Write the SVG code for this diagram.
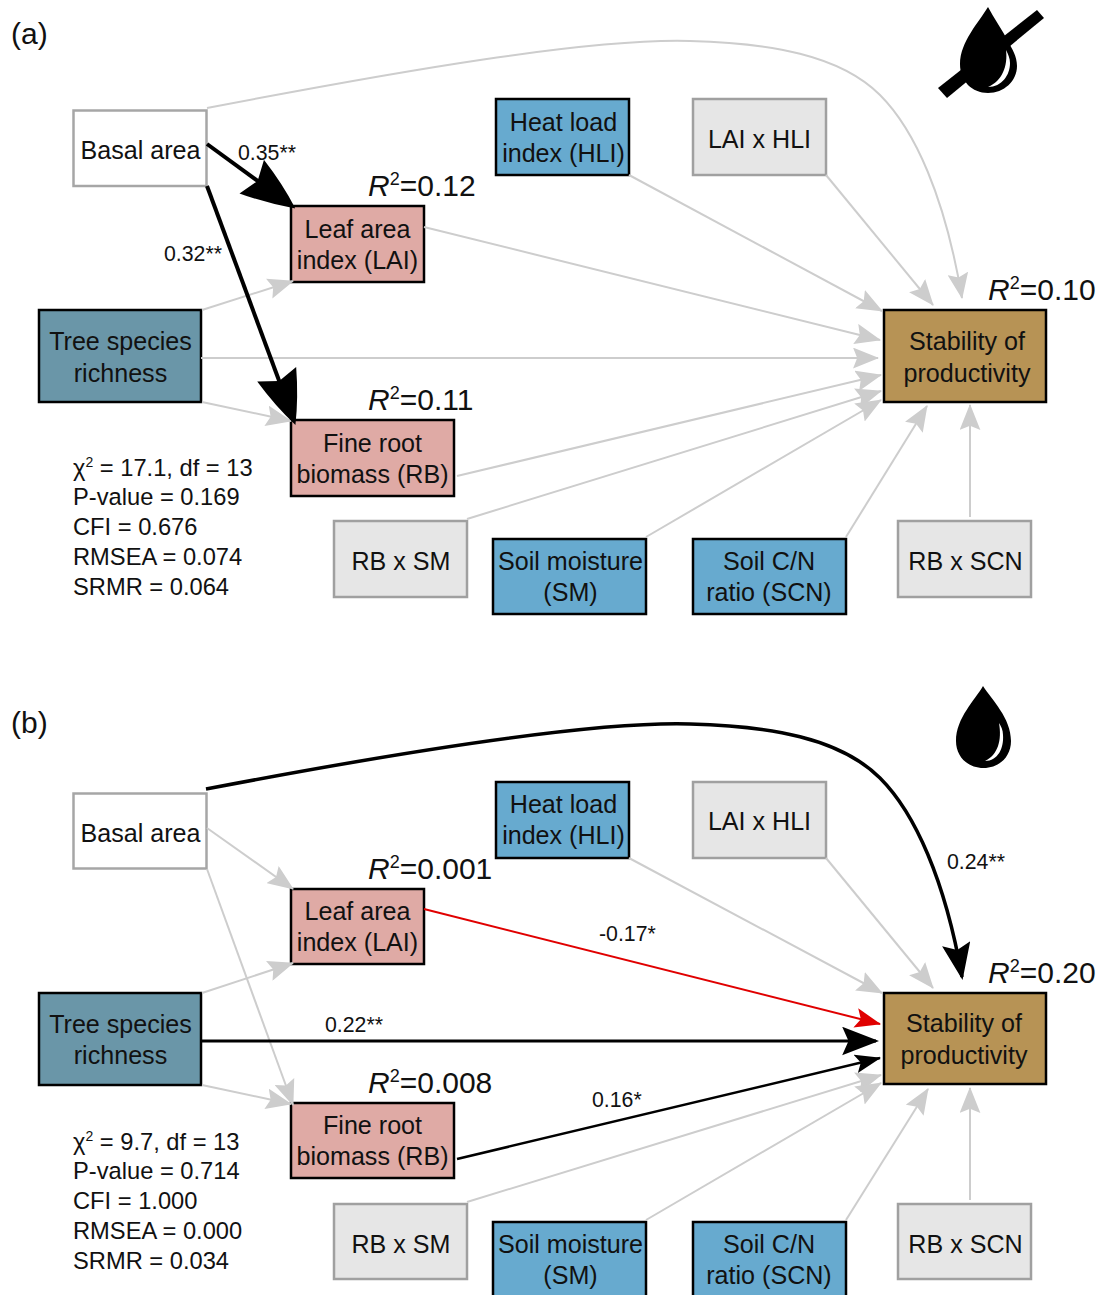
<svg xmlns="http://www.w3.org/2000/svg" width="1099" height="1295" viewBox="0 0 1099 1295">
<style>
text{font-family:"Liberation Sans",Arial,sans-serif;fill:#111}
.n{font-size:25.100px;text-anchor:middle}
.s{font-size:23.700px}
.e{font-size:21.300px}
.r{font-size:30px}
.p{font-size:30px}
.w{fill:#fff;stroke:#a6a6a6;stroke-width:2.5}
.g{fill:#e6e6e6;stroke:#a0a0a0;stroke-width:2.5}
.b{fill:#67aacf;stroke:#000;stroke-width:2.5}
.l{fill:#dfaaa5;stroke:#000;stroke-width:2.5}
.t{fill:#6a96a8;stroke:#000;stroke-width:2.5}
.o{fill:#b79355;stroke:#000;stroke-width:2.5}
.c{fill:none;stroke:#cdcdcd;stroke-width:2;marker-end:url(#mg)}
.k{fill:none;stroke:#000}
</style>
<defs>
<marker id="mg" markerUnits="userSpaceOnUse" markerWidth="26" markerHeight="21" viewBox="0 0 25 20" refX="24" refY="10" orient="auto"><path d="M0 0L25 10L0 20L4 10Z" fill="#cdcdcd"/></marker>
<marker id="mb" markerUnits="userSpaceOnUse" markerWidth="54" markerHeight="42" viewBox="0 0 52 40" refX="48" refY="20" orient="auto"><path d="M0 0Q28 8 52 20Q28 32 0 40L7 20Z" fill="#000"/></marker>
<marker id="mm" markerUnits="userSpaceOnUse" markerWidth="37" markerHeight="29" viewBox="0 0 35 27" refX="32" refY="13.5" orient="auto"><path d="M0 0L35 13.500L0 27L6 13.500Z" fill="#000"/></marker>
<marker id="ms" markerUnits="userSpaceOnUse" markerWidth="26" markerHeight="19" viewBox="0 0 25 18" refX="24" refY="9" orient="auto"><path d="M0 0L25 9L0 18L5 9Z" fill="#000"/></marker>
<marker id="mr" markerUnits="userSpaceOnUse" markerWidth="26" markerHeight="20" viewBox="0 0 25 19" refX="24" refY="9.5" orient="auto"><path d="M0 0L25 9.500L0 19L5 9.500Z" fill="#e00000"/></marker>
</defs>

<text class="p" x="11" y="44">(a)</text>
<text class="p" x="11" y="733">(b)</text>

<g id="a-icon">
<path d="M938,88L947,98L1044,18L1037,10Z" fill="#000"/>
<path d="M988,7C979,22 960,42 960,64C960,81 972,93 988,93C1004,93 1017,81 1017,66C1017,56 1012,49 1008,41C1002,30 994,18 988,7Z" fill="#000"/>
<path d="M1006,50C1008,66 1002,81 988,87C1002,87 1010,75 1010,63C1010,58 1008,54 1006,50Z" fill="#fff"/>
</g>
<g id="b-icon">
<path d="M983,686C975,700 956,718 956,741C956,757 968,768 983.500,768C999,768 1011,757 1011,741C1011,718 992,700 983,686Z" fill="#000"/>
<path d="M999,723C1002,740 998,755 985,761C998,761 1004,748 1003,735C1003,730 1001,726 999,723Z" fill="#fff"/>
</g>

<g id="a-basal"><rect class="w" x="73.500" y="110.500" width="133" height="75.500"/><text class="n" x="140.500" y="159">Basal area</text></g>
<g id="a-hli"><rect class="b" x="496" y="99" width="133" height="76"/><text class="n" x="563.500" y="130.500">Heat load</text><text class="n" x="563.500" y="161.500">index (HLI)</text></g>
<g id="a-laihli"><rect class="g" x="693" y="99" width="133" height="76"/><text class="n" x="759.500" y="147.500">LAI x HLI</text></g>
<g id="a-lai"><rect class="l" x="291" y="206" width="133" height="76"/><text class="n" x="357.500" y="237.500">Leaf area</text><text class="n" x="357.500" y="268.500">index (LAI)</text></g>
<g id="a-tree"><rect class="t" x="39" y="310" width="162" height="92"/><text class="n" x="120.500" y="350">Tree species</text><text class="n" x="120.500" y="381.500">richness</text></g>
<g id="a-rb"><rect class="l" x="291" y="420" width="163" height="76"/><text class="n" x="372.500" y="451.500">Fine root</text><text class="n" x="372.500" y="482.500">biomass (RB)</text></g>
<g id="a-stab"><rect class="o" x="884" y="310" width="162" height="92"/><text class="n" x="967" y="350">Stability of</text><text class="n" x="967" y="381.500">productivity</text></g>
<g id="a-rbsm"><rect class="g" x="334" y="521" width="133" height="76"/><text class="n" x="401" y="570">RB x SM</text></g>
<g id="a-sm"><rect class="b" x="493" y="539" width="153" height="75"/><text class="n" x="570.500" y="570">Soil moisture</text><text class="n" x="570.500" y="601">(SM)</text></g>
<g id="a-scn"><rect class="b" x="693" y="539" width="153" height="75"/><text class="n" x="769" y="570">Soil C/N</text><text class="n" x="769" y="601">ratio (SCN)</text></g>
<g id="a-rbscn"><rect class="g" x="898" y="521" width="133" height="76"/><text class="n" x="965.500" y="570">RB x SCN</text></g>

<g id="b-basal"><rect class="w" x="73.500" y="793.500" width="133" height="75"/><text class="n" x="140.500" y="842">Basal area</text></g>
<g id="b-hli"><rect class="b" x="496" y="782" width="133" height="76"/><text class="n" x="563.500" y="813">Heat load</text><text class="n" x="563.500" y="844">index (HLI)</text></g>
<g id="b-laihli"><rect class="g" x="693" y="782" width="133" height="76"/><text class="n" x="759.500" y="830">LAI x HLI</text></g>
<g id="b-lai"><rect class="l" x="291" y="889" width="133" height="75"/><text class="n" x="357.500" y="920">Leaf area</text><text class="n" x="357.500" y="951">index (LAI)</text></g>
<g id="b-tree"><rect class="t" x="39" y="993" width="162" height="92"/><text class="n" x="120.500" y="1033">Tree species</text><text class="n" x="120.500" y="1064">richness</text></g>
<g id="b-rb"><rect class="l" x="291" y="1103" width="163" height="75"/><text class="n" x="372.500" y="1134">Fine root</text><text class="n" x="372.500" y="1165">biomass (RB)</text></g>
<g id="b-stab"><rect class="o" x="884" y="993" width="162" height="91"/><text class="n" x="964" y="1032">Stability of</text><text class="n" x="964" y="1064">productivity</text></g>
<g id="b-rbsm"><rect class="g" x="334" y="1204" width="133" height="75"/><text class="n" x="401" y="1253">RB x SM</text></g>
<g id="b-sm"><rect class="b" x="493" y="1222" width="153" height="75"/><text class="n" x="570.500" y="1253">Soil moisture</text><text class="n" x="570.500" y="1284">(SM)</text></g>
<g id="b-scn"><rect class="b" x="693" y="1222" width="153" height="75"/><text class="n" x="769" y="1253">Soil C/N</text><text class="n" x="769" y="1284">ratio (SCN)</text></g>
<g id="b-rbscn"><rect class="g" x="898" y="1204" width="133" height="75"/><text class="n" x="965.500" y="1253">RB x SCN</text></g>

<g id="connectors">
<path class="c" d="M207,108C400,71 590,38 690,41C770,43 840,55 880,95C915,130 945,197 962,298"/>
<path class="c" d="M629,175L882,311"/>
<path class="c" d="M826,175L933,305"/>
<path class="c" d="M424,227L880,340"/>
<path class="c" d="M201,358L878,358"/>
<path class="c" d="M457,476L881,375"/>
<path class="c" d="M467,519L881,391"/>
<path class="c" d="M646,537L881,400"/>
<path class="c" d="M846,537L927,406"/>
<path class="c" d="M970,517L970,405"/>
<path class="c" d="M202,310L293,281"/>
<path class="c" d="M202,402L291,421"/>
<path class="k" stroke-width="4" marker-end="url(#mb)" d="M207,144L292,206"/>
<path class="k" stroke-width="4" marker-end="url(#mb)" d="M207,186L294,421"/>

<path class="c" d="M207,828L293,889"/>
<path class="c" d="M207,869L293,1105"/>
<path class="c" d="M629,858L882,993"/>
<path class="c" d="M826,858L933,988"/>
<path class="c" d="M202,993L293,963"/>
<path class="c" d="M202,1085L291,1104"/>
<path class="c" d="M467,1202L881,1075"/>
<path class="c" d="M646,1220L881,1083"/>
<path class="c" d="M846,1220L928,1089"/>
<path class="c" d="M970,1200L970,1088"/>
<path class="k" stroke-width="3.500" marker-end="url(#mm)" d="M206,789C400,752 590,721 690,724C770,726 840,738 880,778C915,813 945,880 962,977"/>
<path class="k" style="stroke:#e00000" stroke-width="2" marker-end="url(#mr)" d="M424,909L880,1024"/>
<path class="k" stroke-width="3" marker-end="url(#mm)" d="M201,1041L876,1041"/>
<path class="k" stroke-width="2.500" marker-end="url(#ms)" d="M457,1159L880,1058"/>
</g>

<text class="e" x="238" y="160">0.35**</text>
<text class="e" x="164" y="261">0.32**</text>
<text class="e" x="947" y="869">0.24**</text>
<text class="e" x="599" y="941">-0.17*</text>
<text class="e" x="325" y="1032">0.22**</text>
<text class="e" x="592" y="1107">0.16*</text>

<text class="r" x="368" y="196"><tspan font-style="italic">R</tspan><tspan font-size="18" dy="-11">2</tspan><tspan dy="11">=0.12</tspan></text>
<text class="r" x="368" y="410"><tspan font-style="italic">R</tspan><tspan font-size="18" dy="-11">2</tspan><tspan dy="11">=0.11</tspan></text>
<text class="r" x="988" y="300"><tspan font-style="italic">R</tspan><tspan font-size="18" dy="-11">2</tspan><tspan dy="11">=0.10</tspan></text>
<text class="r" x="368" y="879"><tspan font-style="italic">R</tspan><tspan font-size="18" dy="-11">2</tspan><tspan dy="11">=0.001</tspan></text>
<text class="r" x="368" y="1093"><tspan font-style="italic">R</tspan><tspan font-size="18" dy="-11">2</tspan><tspan dy="11">=0.008</tspan></text>
<text class="r" x="988" y="983"><tspan font-style="italic">R</tspan><tspan font-size="18" dy="-11">2</tspan><tspan dy="11">=0.20</tspan></text>

<g id="a-fit">
<text class="s" x="73" y="476">χ<tspan font-size="14" dy="-9">2</tspan><tspan dy="9"> = 17.1, df = 13</tspan></text>
<text class="s" x="73" y="505">P-value = 0.169</text>
<text class="s" x="73" y="535">CFI = 0.676</text>
<text class="s" x="73" y="565">RMSEA = 0.074</text>
<text class="s" x="73" y="595">SRMR = 0.064</text>
</g>
<g id="b-fit">
<text class="s" x="73" y="1150">χ<tspan font-size="14" dy="-9">2</tspan><tspan dy="9"> = 9.7, df = 13</tspan></text>
<text class="s" x="73" y="1179">P-value = 0.714</text>
<text class="s" x="73" y="1209">CFI = 1.000</text>
<text class="s" x="73" y="1239">RMSEA = 0.000</text>
<text class="s" x="73" y="1269">SRMR = 0.034</text>
</g>
</svg>
